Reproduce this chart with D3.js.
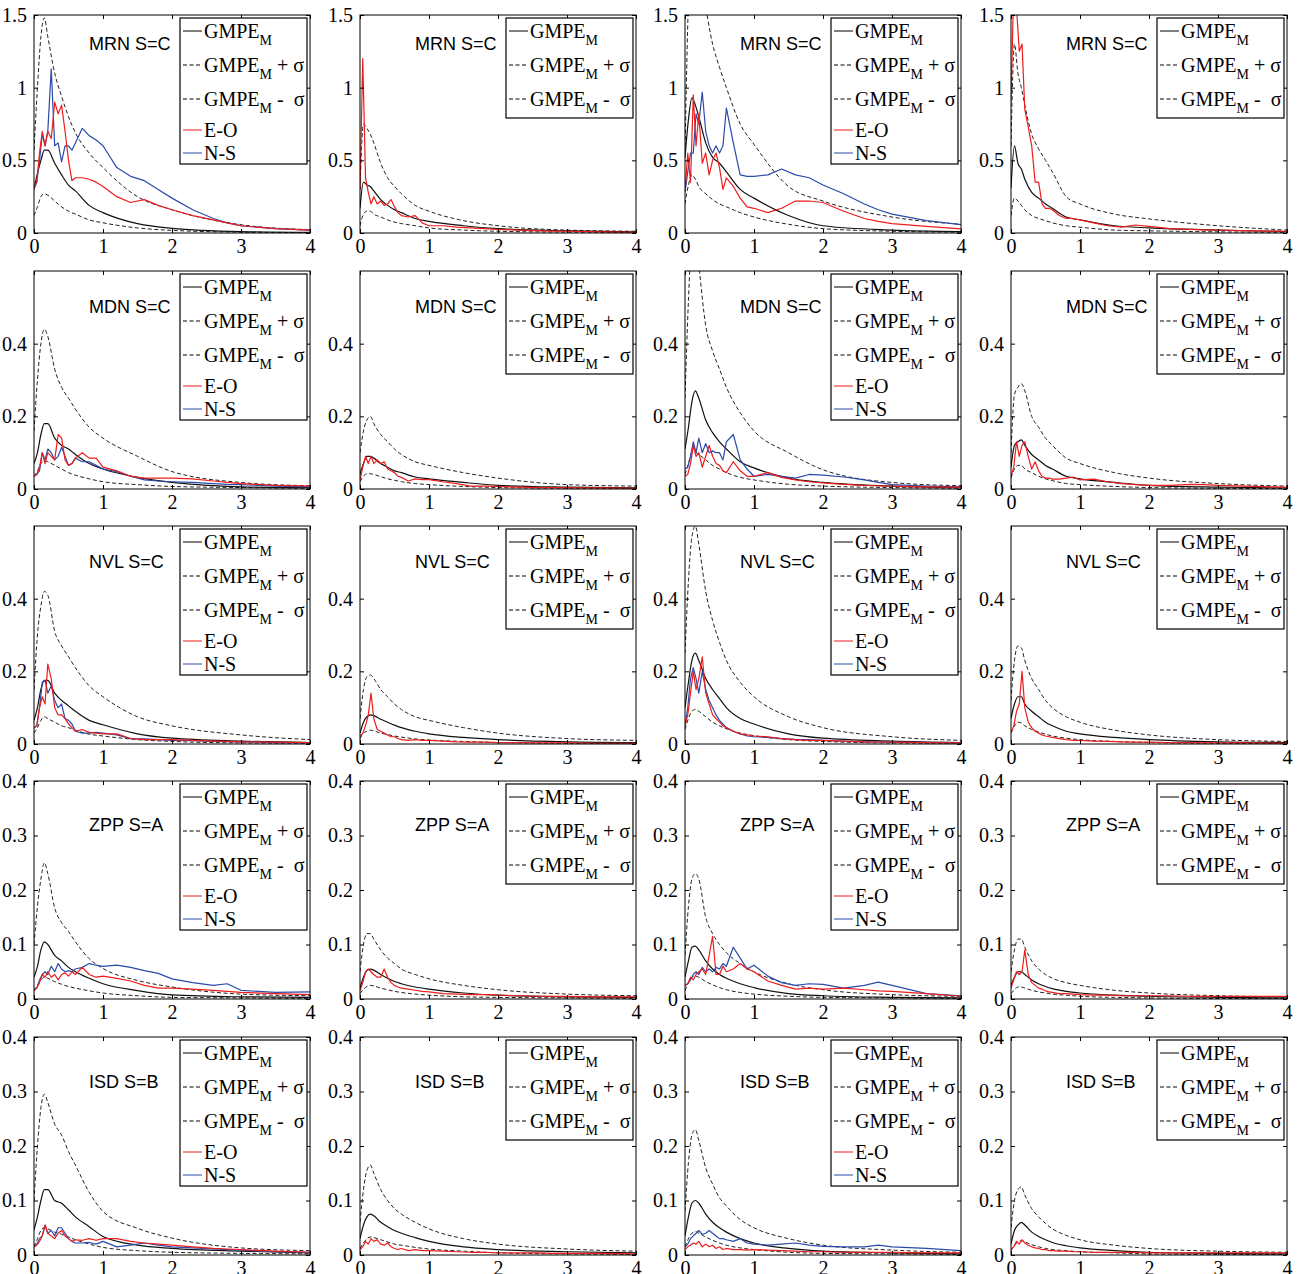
<!DOCTYPE html>
<html>
<head>
<meta charset="utf-8">
<script src="https://cdn.jsdelivr.net/npm/d3@7"></script>
<style>
  body { margin: 0; background: #fff; }
  svg text { font-family: "Liberation Serif", "Times New Roman", serif; }
  svg text.stn { font-family: "Liberation Sans", Arial, sans-serif; }
</style>
</head>
<body>
<div id="chart"></div>
<script>
// periods (s) of the GMPE curves and of the recorded spectra
var gmpeT = [0, 0.05, 0.1, 0.15, 0.2, 0.3, 0.4, 0.5, 0.6, 0.8, 1, 1.5, 2, 3, 4];
var obsT = [0, 0.04, 0.08, 0.12, 0.16, 0.2, 0.25, 0.3, 0.35, 0.4, 0.45, 0.5, 0.55, 0.6, 0.7, 0.8, 0.9, 1,
  1.2, 1.4, 1.6, 1.8, 2, 2.3, 2.6, 2.8, 3, 3.5, 4];

var stations = ['MRN S=C', 'MDN S=C', 'NVL S=C', 'ZPP S=A', 'ISD S=B'];
var yMax = [1.5, 0.6, 0.6, 0.4, 0.4];
var yTicks = [[0, 0.5, 1, 1.5], [0, 0.2, 0.4], [0, 0.2, 0.4], [0, 0.1, 0.2, 0.3, 0.4], [0, 0.1, 0.2, 0.3, 0.4]];
var xTicks = [0, 1, 2, 3, 4];

// MRN
var mrn1Med = [0.30, 0.41, 0.50, 0.57, 0.57, 0.48, 0.40, 0.33, 0.29, 0.19, 0.14, 0.064, 0.032, 0.01, 0.005];
var mrn1Up = [0.57, 1.00, 1.35, 1.48, 1.35, 1.10, 0.94, 0.80, 0.69, 0.55, 0.45, 0.25, 0.16, 0.057, 0.023];
var mrn1Lo = [0.12, 0.18, 0.25, 0.27, 0.26, 0.22, 0.18, 0.15, 0.13, 0.09, 0.07, 0.035, 0.018, 0.006, 0.003];
var mrn1EO = [0.30, 0.35, 0.55, 0.70, 0.60, 0.70, 0.65, 0.90, 0.82, 0.88, 0.70, 0.50, 0.36, 0.38, 0.38, 0.37, 0.35, 0.32,
  0.25, 0.21, 0.23, 0.19, 0.16, 0.12, 0.09, 0.07, 0.05, 0.03, 0.02];
var mrn1NS = [0.31, 0.35, 0.50, 0.68, 0.60, 0.70, 1.13, 0.60, 0.62, 0.49, 0.60, 0.60, 0.57, 0.62, 0.72, 0.67, 0.64, 0.60,
  0.45, 0.39, 0.36, 0.30, 0.24, 0.16, 0.10, 0.07, 0.05, 0.03, 0.02];

var mrn2Med = [0.17, 0.35, 0.33, 0.32, 0.29, 0.23, 0.19, 0.16, 0.14, 0.10, 0.08, 0.05, 0.03, 0.015, 0.008];
var mrn2Up = [0.30, 0.75, 0.72, 0.68, 0.62, 0.48, 0.38, 0.32, 0.27, 0.19, 0.15, 0.085, 0.05, 0.02, 0.012];
var mrn2Lo = [0.05, 0.13, 0.15, 0.15, 0.13, 0.11, 0.09, 0.075, 0.065, 0.05, 0.035, 0.02, 0.012, 0.006, 0.003];
var mrn2EO = [0.30, 1.20, 0.38, 0.28, 0.20, 0.25, 0.20, 0.22, 0.19, 0.20, 0.23, 0.18, 0.14, 0.12, 0.11, 0.12, 0.07, 0.05,
  0.05, 0.04, 0.035, 0.03, 0.025, 0.02, 0.015, 0.013, 0.012, 0.008, 0.005];

var mrn3Med = [0.52, 0.78, 0.93, 0.88, 0.80, 0.62, 0.52, 0.48, 0.42, 0.30, 0.24, 0.12, 0.05, 0.02, 0.01];
var mrn3Up = [0.55, 1.60, 2.00, 1.95, 1.80, 1.55, 1.30, 1.14, 1.00, 0.75, 0.61, 0.32, 0.22, 0.11, 0.06];
var mrn3Lo = [0.20, 0.33, 0.40, 0.37, 0.32, 0.27, 0.23, 0.20, 0.18, 0.14, 0.11, 0.06, 0.03, 0.012, 0.006];
var mrn3EO = [0.28, 0.55, 0.35, 0.95, 0.60, 0.82, 0.48, 0.55, 0.40, 0.50, 0.55, 0.45, 0.30, 0.38, 0.32, 0.24, 0.18, 0.17,
  0.14, 0.17, 0.22, 0.22, 0.21, 0.15, 0.10, 0.08, 0.065, 0.045, 0.028];
var mrn3NS = [0.28, 0.42, 0.55, 0.55, 0.82, 0.75, 0.97, 0.70, 0.60, 0.55, 0.60, 0.55, 0.60, 0.86, 0.62, 0.40, 0.39, 0.39,
  0.40, 0.44, 0.40, 0.38, 0.33, 0.27, 0.20, 0.16, 0.13, 0.085, 0.058];

var mrn4Med = [0.31, 0.60, 0.48, 0.44, 0.37, 0.28, 0.24, 0.20, 0.17, 0.11, 0.09, 0.05, 0.035, 0.02, 0.01];
var mrn4Up = [0.60, 1.30, 1.10, 1.00, 0.88, 0.68, 0.58, 0.50, 0.42, 0.25, 0.20, 0.13, 0.097, 0.05, 0.02];
var mrn4Lo = [0.12, 0.24, 0.22, 0.19, 0.16, 0.12, 0.10, 0.085, 0.07, 0.05, 0.04, 0.02, 0.015, 0.008, 0.004];
var mrn4EO = [0.90, 1.70, 1.55, 1.25, 1.30, 0.85, 0.73, 0.60, 0.35, 0.35, 0.20, 0.17, 0.17, 0.16, 0.12, 0.10, 0.10, 0.09,
  0.07, 0.05, 0.04, 0.055, 0.045, 0.03, 0.025, 0.022, 0.02, 0.015, 0.012];

// MDN
var mdn1Med = [0.07, 0.10, 0.15, 0.18, 0.18, 0.14, 0.12, 0.11, 0.095, 0.07, 0.055, 0.032, 0.018, 0.006, 0.004];
var mdn1Up = [0.16, 0.30, 0.40, 0.44, 0.42, 0.33, 0.28, 0.25, 0.22, 0.17, 0.14, 0.09, 0.048, 0.018, 0.009];
var mdn1Lo = [0.035, 0.05, 0.07, 0.078, 0.075, 0.065, 0.055, 0.045, 0.038, 0.028, 0.02, 0.012, 0.007, 0.004, 0.002];
var mdn1EO = [0.035, 0.04, 0.06, 0.10, 0.07, 0.10, 0.09, 0.08, 0.15, 0.14, 0.08, 0.065, 0.07, 0.085, 0.10, 0.085, 0.085, 0.06,
  0.05, 0.035, 0.03, 0.03, 0.03, 0.028, 0.022, 0.018, 0.015, 0.01, 0.008];
var mdn1NS = [0.035, 0.04, 0.05, 0.10, 0.08, 0.11, 0.10, 0.08, 0.09, 0.115, 0.09, 0.065, 0.07, 0.085, 0.075, 0.075, 0.065, 0.055,
  0.048, 0.035, 0.025, 0.022, 0.02, 0.018, 0.015, 0.013, 0.012, 0.008, 0.006];

var mdn2Med = [0.04, 0.07, 0.09, 0.09, 0.085, 0.07, 0.06, 0.05, 0.045, 0.033, 0.028, 0.018, 0.01, 0.005, 0.003];
var mdn2Up = [0.10, 0.16, 0.19, 0.20, 0.18, 0.15, 0.13, 0.11, 0.095, 0.075, 0.065, 0.045, 0.03, 0.012, 0.008];
var mdn2Lo = [0.02, 0.035, 0.042, 0.042, 0.04, 0.034, 0.028, 0.024, 0.02, 0.015, 0.012, 0.007, 0.004, 0.002, 0.001];
var mdn2EO = [0.025, 0.06, 0.09, 0.07, 0.09, 0.07, 0.08, 0.07, 0.075, 0.055, 0.05, 0.045, 0.035, 0.032, 0.022, 0.028, 0.026, 0.026,
  0.02, 0.015, 0.008, 0.008, 0.007, 0.005, 0.004, 0.004, 0.003, 0.003, 0.002];

var mdn3Med = [0.11, 0.17, 0.24, 0.27, 0.25, 0.19, 0.155, 0.13, 0.11, 0.075, 0.058, 0.03, 0.018, 0.008, 0.004];
var mdn3Up = [0.25, 0.52, 0.70, 0.72, 0.62, 0.45, 0.38, 0.33, 0.28, 0.21, 0.16, 0.10, 0.053, 0.018, 0.009];
var mdn3Lo = [0.04, 0.07, 0.10, 0.10, 0.095, 0.08, 0.065, 0.055, 0.045, 0.032, 0.025, 0.013, 0.008, 0.004, 0.002];
var mdn3EO = [0.035, 0.04, 0.07, 0.12, 0.09, 0.10, 0.06, 0.09, 0.12, 0.09, 0.07, 0.065, 0.05, 0.045, 0.075, 0.05, 0.035, 0.035,
  0.045, 0.032, 0.025, 0.02, 0.017, 0.013, 0.01, 0.009, 0.008, 0.006, 0.005];
var mdn3NS = [0.055, 0.06, 0.09, 0.13, 0.10, 0.14, 0.10, 0.125, 0.10, 0.105, 0.10, 0.10, 0.08, 0.13, 0.15, 0.08, 0.055, 0.035,
  0.04, 0.035, 0.03, 0.04, 0.038, 0.033, 0.025, 0.018, 0.012, 0.008, 0.006];

var mdn4Med = [0.06, 0.12, 0.13, 0.135, 0.12, 0.095, 0.08, 0.065, 0.055, 0.035, 0.028, 0.018, 0.01, 0.005, 0.003];
var mdn4Up = [0.10, 0.26, 0.28, 0.29, 0.27, 0.20, 0.17, 0.14, 0.12, 0.085, 0.07, 0.045, 0.03, 0.015, 0.008];
var mdn4Lo = [0.03, 0.055, 0.065, 0.065, 0.055, 0.045, 0.035, 0.028, 0.023, 0.015, 0.012, 0.007, 0.004, 0.002, 0.001];
var mdn4EO = [0.035, 0.06, 0.13, 0.09, 0.12, 0.13, 0.09, 0.055, 0.075, 0.05, 0.035, 0.03, 0.03, 0.027, 0.027, 0.03, 0.033, 0.025,
  0.027, 0.02, 0.015, 0.012, 0.01, 0.01, 0.013, 0.012, 0.01, 0.007, 0.005];

// NVL
var nvl1Med = [0.065, 0.10, 0.15, 0.175, 0.175, 0.14, 0.12, 0.105, 0.09, 0.065, 0.053, 0.028, 0.016, 0.008, 0.004];
var nvl1Up = [0.15, 0.30, 0.38, 0.42, 0.41, 0.31, 0.27, 0.24, 0.21, 0.16, 0.13, 0.075, 0.05, 0.025, 0.012];
var nvl1Lo = [0.03, 0.045, 0.065, 0.075, 0.07, 0.06, 0.05, 0.045, 0.038, 0.027, 0.022, 0.012, 0.007, 0.003, 0.002];
var nvl1EO = [0.045, 0.05, 0.10, 0.13, 0.11, 0.22, 0.18, 0.10, 0.08, 0.08, 0.07, 0.055, 0.045, 0.035, 0.04, 0.032, 0.03, 0.028,
  0.028, 0.015, 0.012, 0.012, 0.012, 0.01, 0.008, 0.007, 0.006, 0.005, 0.004];
var nvl1NS = [0.045, 0.05, 0.10, 0.17, 0.175, 0.14, 0.16, 0.12, 0.10, 0.11, 0.07, 0.065, 0.055, 0.035, 0.03, 0.03, 0.032, 0.03,
  0.025, 0.015, 0.014, 0.012, 0.01, 0.009, 0.007, 0.0065, 0.006, 0.004, 0.003];

var nvl2Med = [0.03, 0.06, 0.075, 0.08, 0.078, 0.068, 0.06, 0.052, 0.045, 0.035, 0.028, 0.018, 0.012, 0.006, 0.004];
var nvl2Up = [0.07, 0.15, 0.185, 0.19, 0.18, 0.15, 0.13, 0.11, 0.095, 0.075, 0.065, 0.045, 0.03, 0.015, 0.01];
var nvl2Lo = [0.015, 0.03, 0.035, 0.038, 0.036, 0.03, 0.026, 0.022, 0.019, 0.014, 0.011, 0.007, 0.004, 0.002, 0.001];
var nvl2EO = [0.02, 0.03, 0.05, 0.08, 0.14, 0.07, 0.04, 0.035, 0.03, 0.025, 0.02, 0.02, 0.015, 0.012, 0.01, 0.012, 0.01, 0.01,
  0.008, 0.006, 0.005, 0.005, 0.004, 0.004, 0.003, 0.003, 0.003, 0.002, 0.002];

var nvl3Med = [0.10, 0.17, 0.23, 0.25, 0.23, 0.18, 0.15, 0.125, 0.10, 0.07, 0.055, 0.028, 0.016, 0.008, 0.004];
var nvl3Up = [0.25, 0.45, 0.57, 0.60, 0.55, 0.42, 0.34, 0.28, 0.23, 0.17, 0.13, 0.075, 0.045, 0.02, 0.01];
var nvl3Lo = [0.04, 0.07, 0.09, 0.095, 0.09, 0.075, 0.06, 0.05, 0.042, 0.03, 0.023, 0.012, 0.007, 0.003, 0.002];
var nvl3EO = [0.05, 0.08, 0.14, 0.20, 0.15, 0.18, 0.24, 0.14, 0.11, 0.08, 0.07, 0.06, 0.05, 0.045, 0.035, 0.028, 0.025, 0.022,
  0.02, 0.015, 0.012, 0.01, 0.01, 0.008, 0.006, 0.0055, 0.005, 0.004, 0.003];
var nvl3NS = [0.05, 0.10, 0.18, 0.21, 0.18, 0.14, 0.20, 0.15, 0.12, 0.10, 0.08, 0.065, 0.055, 0.045, 0.035, 0.028, 0.022, 0.02,
  0.018, 0.015, 0.013, 0.012, 0.01, 0.008, 0.006, 0.0055, 0.005, 0.004, 0.003];

var nvl4Med = [0.07, 0.11, 0.13, 0.13, 0.11, 0.09, 0.075, 0.06, 0.05, 0.035, 0.028, 0.018, 0.012, 0.006, 0.004];
var nvl4Up = [0.12, 0.23, 0.27, 0.265, 0.23, 0.18, 0.15, 0.12, 0.10, 0.075, 0.06, 0.038, 0.025, 0.012, 0.007];
var nvl4Lo = [0.03, 0.05, 0.06, 0.058, 0.05, 0.04, 0.033, 0.027, 0.022, 0.016, 0.012, 0.007, 0.004, 0.002, 0.001];
var nvl4EO = [0.03, 0.05, 0.09, 0.11, 0.20, 0.10, 0.06, 0.045, 0.035, 0.03, 0.025, 0.022, 0.02, 0.018, 0.015, 0.012, 0.01, 0.01,
  0.008, 0.007, 0.006, 0.005, 0.005, 0.004, 0.004, 0.003, 0.003, 0.003, 0.002];

// ZPP
var zpp1Med = [0.04, 0.06, 0.09, 0.105, 0.10, 0.08, 0.07, 0.058, 0.05, 0.038, 0.028, 0.0155, 0.0075, 0.004, 0.003];
var zpp1Up = [0.10, 0.17, 0.22, 0.25, 0.23, 0.167, 0.14, 0.124, 0.105, 0.074, 0.056, 0.034, 0.022, 0.009, 0.006];
var zpp1Lo = [0.015, 0.025, 0.035, 0.04, 0.038, 0.032, 0.027, 0.023, 0.02, 0.015, 0.011, 0.006, 0.003, 0.002, 0.001];
var zpp1EO = [0.015, 0.02, 0.03, 0.045, 0.04, 0.05, 0.04, 0.045, 0.035, 0.045, 0.048, 0.042, 0.05, 0.045, 0.058, 0.045, 0.04, 0.042,
  0.038, 0.033, 0.025, 0.02, 0.02, 0.018, 0.016, 0.014, 0.012, 0.01, 0.008];
var zpp1NS = [0.018, 0.02, 0.035, 0.045, 0.05, 0.045, 0.06, 0.05, 0.065, 0.055, 0.05, 0.052, 0.05, 0.055, 0.058, 0.065, 0.062, 0.06,
  0.062, 0.058, 0.052, 0.047, 0.037, 0.03, 0.025, 0.028, 0.016, 0.012, 0.013];

var zpp2Med = [0.02, 0.04, 0.052, 0.055, 0.053, 0.045, 0.038, 0.032, 0.028, 0.022, 0.018, 0.011, 0.007, 0.004, 0.003];
var zpp2Up = [0.05, 0.10, 0.12, 0.12, 0.11, 0.09, 0.075, 0.065, 0.055, 0.045, 0.037, 0.025, 0.017, 0.009, 0.006];
var zpp2Lo = [0.01, 0.018, 0.023, 0.025, 0.024, 0.02, 0.017, 0.014, 0.012, 0.009, 0.007, 0.004, 0.003, 0.002, 0.001];
var zpp2EO = [0.015, 0.03, 0.05, 0.055, 0.05, 0.045, 0.04, 0.04, 0.055, 0.04, 0.03, 0.025, 0.022, 0.02, 0.018, 0.016, 0.014, 0.013,
  0.01, 0.009, 0.008, 0.008, 0.007, 0.006, 0.005, 0.005, 0.005, 0.004, 0.004];

var zpp3Med = [0.04, 0.07, 0.095, 0.097, 0.09, 0.07, 0.055, 0.045, 0.038, 0.028, 0.021, 0.01, 0.006, 0.003, 0.002];
var zpp3Up = [0.08, 0.17, 0.22, 0.23, 0.22, 0.15, 0.12, 0.10, 0.085, 0.065, 0.05, 0.028, 0.017, 0.008, 0.005];
var zpp3Lo = [0.015, 0.03, 0.04, 0.042, 0.04, 0.032, 0.026, 0.021, 0.017, 0.012, 0.009, 0.005, 0.003, 0.002, 0.001];
var zpp3EO = [0.025, 0.028, 0.04, 0.035, 0.045, 0.05, 0.055, 0.045, 0.08, 0.115, 0.045, 0.045, 0.06, 0.05, 0.055, 0.065, 0.055, 0.05,
  0.033, 0.025, 0.018, 0.02, 0.018, 0.02, 0.017, 0.015, 0.014, 0.01, 0.005];
var zpp3NS = [0.025, 0.028, 0.035, 0.045, 0.05, 0.045, 0.058, 0.05, 0.055, 0.05, 0.058, 0.055, 0.065, 0.06, 0.095, 0.075, 0.055, 0.062,
  0.042, 0.03, 0.025, 0.028, 0.027, 0.02, 0.025, 0.031, 0.025, 0.01, 0.006];

var zpp4Med = [0.025, 0.04, 0.05, 0.05, 0.045, 0.035, 0.028, 0.023, 0.019, 0.014, 0.011, 0.007, 0.005, 0.003, 0.002];
var zpp4Up = [0.05, 0.09, 0.11, 0.11, 0.095, 0.07, 0.055, 0.045, 0.038, 0.03, 0.025, 0.016, 0.011, 0.006, 0.004];
var zpp4Lo = [0.01, 0.017, 0.022, 0.022, 0.02, 0.016, 0.013, 0.011, 0.009, 0.007, 0.005, 0.003, 0.002, 0.001, 0.001];
var zpp4EO = [0.02, 0.035, 0.05, 0.045, 0.05, 0.09, 0.045, 0.03, 0.025, 0.02, 0.018, 0.015, 0.013, 0.012, 0.01, 0.01, 0.009, 0.008,
  0.007, 0.007, 0.006, 0.006, 0.006, 0.006, 0.005, 0.005, 0.005, 0.005, 0.005];

// ISD
var isd1Med = [0.046, 0.07, 0.10, 0.12, 0.12, 0.10, 0.095, 0.083, 0.07, 0.052, 0.034, 0.018, 0.012, 0.007, 0.004];
var isd1Up = [0.10, 0.20, 0.27, 0.295, 0.28, 0.24, 0.22, 0.19, 0.165, 0.115, 0.08, 0.049, 0.031, 0.013, 0.008];
var isd1Lo = [0.015, 0.03, 0.045, 0.05, 0.048, 0.042, 0.038, 0.033, 0.028, 0.02, 0.014, 0.008, 0.005, 0.003, 0.002];
var isd1EO = [0.015, 0.018, 0.025, 0.035, 0.055, 0.04, 0.035, 0.03, 0.04, 0.045, 0.035, 0.03, 0.025, 0.028, 0.027, 0.03, 0.027, 0.03,
  0.03, 0.025, 0.022, 0.02, 0.018, 0.015, 0.012, 0.011, 0.01, 0.007, 0.005];
var isd1NS = [0.015, 0.02, 0.03, 0.035, 0.055, 0.04, 0.045, 0.035, 0.05, 0.05, 0.04, 0.03, 0.025, 0.022, 0.022, 0.023, 0.02, 0.025,
  0.015, 0.018, 0.022, 0.018, 0.015, 0.013, 0.011, 0.01, 0.009, 0.006, 0.005];

var isd2Med = [0.03, 0.055, 0.07, 0.075, 0.072, 0.06, 0.052, 0.045, 0.04, 0.032, 0.025, 0.015, 0.01, 0.006, 0.004];
var isd2Up = [0.06, 0.12, 0.155, 0.165, 0.15, 0.12, 0.10, 0.085, 0.075, 0.06, 0.048, 0.03, 0.02, 0.011, 0.007];
var isd2Lo = [0.012, 0.022, 0.03, 0.033, 0.032, 0.028, 0.024, 0.02, 0.018, 0.014, 0.011, 0.007, 0.004, 0.002, 0.001];
var isd2EO = [0.01, 0.015, 0.025, 0.02, 0.03, 0.025, 0.028, 0.02, 0.018, 0.022, 0.015, 0.012, 0.01, 0.012, 0.008, 0.01, 0.008, 0.008,
  0.007, 0.006, 0.005, 0.005, 0.004, 0.004, 0.004, 0.003, 0.003, 0.003, 0.002];

var isd3Med = [0.035, 0.07, 0.095, 0.10, 0.095, 0.075, 0.06, 0.05, 0.042, 0.03, 0.022, 0.012, 0.007, 0.004, 0.002];
var isd3Up = [0.08, 0.17, 0.22, 0.23, 0.21, 0.16, 0.13, 0.105, 0.09, 0.065, 0.05, 0.03, 0.018, 0.009, 0.005];
var isd3Lo = [0.015, 0.03, 0.04, 0.043, 0.04, 0.033, 0.027, 0.022, 0.018, 0.013, 0.01, 0.005, 0.003, 0.002, 0.001];
var isd3EO = [0.01, 0.015, 0.018, 0.022, 0.02, 0.025, 0.015, 0.02, 0.015, 0.018, 0.012, 0.015, 0.01, 0.012, 0.01, 0.01, 0.009, 0.01,
  0.009, 0.008, 0.007, 0.006, 0.006, 0.005, 0.005, 0.005, 0.005, 0.004, 0.004];
var isd3NS = [0.015, 0.02, 0.03, 0.035, 0.04, 0.045, 0.038, 0.04, 0.045, 0.04, 0.035, 0.03, 0.03, 0.028, 0.025, 0.03, 0.022, 0.02,
  0.018, 0.02, 0.022, 0.018, 0.016, 0.015, 0.015, 0.018, 0.015, 0.012, 0.008];

var isd4Med = [0.02, 0.045, 0.055, 0.06, 0.055, 0.042, 0.034, 0.028, 0.023, 0.017, 0.013, 0.008, 0.005, 0.003, 0.002];
var isd4Up = [0.05, 0.10, 0.12, 0.125, 0.11, 0.085, 0.07, 0.058, 0.048, 0.036, 0.028, 0.018, 0.012, 0.007, 0.005];
var isd4Lo = [0.008, 0.018, 0.024, 0.026, 0.024, 0.019, 0.015, 0.012, 0.01, 0.008, 0.006, 0.004, 0.002, 0.001, 0.001];
var isd4EO = [0.01, 0.015, 0.025, 0.02, 0.028, 0.022, 0.018, 0.015, 0.013, 0.012, 0.01, 0.01, 0.008, 0.008, 0.007, 0.007, 0.006, 0.006,
  0.005, 0.005, 0.005, 0.005, 0.004, 0.004, 0.004, 0.004, 0.004, 0.004, 0.004];

var panels = [
  [{ med: mrn1Med, up: mrn1Up, lo: mrn1Lo, eo: mrn1EO, ns: mrn1NS },
   { med: mrn2Med, up: mrn2Up, lo: mrn2Lo, eo: mrn2EO },
   { med: mrn3Med, up: mrn3Up, lo: mrn3Lo, eo: mrn3EO, ns: mrn3NS },
   { med: mrn4Med, up: mrn4Up, lo: mrn4Lo, eo: mrn4EO }],
  [{ med: mdn1Med, up: mdn1Up, lo: mdn1Lo, eo: mdn1EO, ns: mdn1NS },
   { med: mdn2Med, up: mdn2Up, lo: mdn2Lo, eo: mdn2EO },
   { med: mdn3Med, up: mdn3Up, lo: mdn3Lo, eo: mdn3EO, ns: mdn3NS },
   { med: mdn4Med, up: mdn4Up, lo: mdn4Lo, eo: mdn4EO }],
  [{ med: nvl1Med, up: nvl1Up, lo: nvl1Lo, eo: nvl1EO, ns: nvl1NS },
   { med: nvl2Med, up: nvl2Up, lo: nvl2Lo, eo: nvl2EO },
   { med: nvl3Med, up: nvl3Up, lo: nvl3Lo, eo: nvl3EO, ns: nvl3NS },
   { med: nvl4Med, up: nvl4Up, lo: nvl4Lo, eo: nvl4EO }],
  [{ med: zpp1Med, up: zpp1Up, lo: zpp1Lo, eo: zpp1EO, ns: zpp1NS },
   { med: zpp2Med, up: zpp2Up, lo: zpp2Lo, eo: zpp2EO },
   { med: zpp3Med, up: zpp3Up, lo: zpp3Lo, eo: zpp3EO, ns: zpp3NS },
   { med: zpp4Med, up: zpp4Up, lo: zpp4Lo, eo: zpp4EO }],
  [{ med: isd1Med, up: isd1Up, lo: isd1Lo, eo: isd1EO, ns: isd1NS },
   { med: isd2Med, up: isd2Up, lo: isd2Lo, eo: isd2EO },
   { med: isd3Med, up: isd3Up, lo: isd3Lo, eo: isd3EO, ns: isd3NS },
   { med: isd4Med, up: isd4Up, lo: isd4Lo, eo: isd4EO }]
];

var red = '#ee1c1c',
  blue = '#2b4aa9';

var width = 1301,
  height = 1274,
  pw = 276,
  ph = 218;
var colX = [34, 360, 685, 1011],
  rowY = [15, 271, 526, 781, 1037],
  labelDy = [35, 42, 42, 50, 51];

var svg = d3.select('#chart')
  .append('svg')
  .attr('width', width)
  .attr('height', height);

var drawLegend = function(g, full) {
  var bx = 146,
    by = 3,
    bw = 127,
    bh = full ? 146 : 100;
  var lg = g.append('g').attr('transform', 'translate(' + bx + ',' + by + ')');
  lg.append('rect')
    .attr('width', bw)
    .attr('height', bh)
    .attr('fill', '#fff')
    .attr('stroke', '#000')
    .attr('stroke-width', 1.2);

  var entries = [
    { gmpe: true, tail: '', color: '#000', dash: null, base: 20 },
    { gmpe: true, tail: ' + σ', color: '#000', dash: '4,2.5', base: 54 },
    { gmpe: true, tail: ' -  σ', color: '#000', dash: '4,2.5', base: 88 }
  ];
  if (full) {
    entries.push({ label: 'E-O', color: red, dash: null, base: 119 });
    entries.push({ label: 'N-S', color: blue, dash: null, base: 142 });
  }

  entries.forEach(function(e) {
    lg.append('line')
      .attr('x1', 3)
      .attr('x2', 22)
      .attr('y1', e.base - 7)
      .attr('y2', e.base - 7)
      .attr('stroke', e.color)
      .attr('stroke-width', 1)
      .attr('stroke-dasharray', e.dash);
    var t = lg.append('text')
      .attr('x', 24)
      .attr('y', e.base)
      .style('font-size', '20px')
      .style('white-space', 'pre');
    if (e.gmpe) {
      t.append('tspan').text('GMPE');
      t.append('tspan').attr('dy', 7).style('font-size', '14px').text('M');
      if (e.tail) {
        t.append('tspan').attr('dy', -7).text(e.tail);
      }
    } else {
      t.text(e.label);
    }
  });
};

panels.forEach(function(row, r) {
  row.forEach(function(p, c) {
    var g = svg.append('g')
      .attr('transform', 'translate(' + colX[c] + ',' + rowY[r] + ')');

    var x = d3.scaleLinear().domain([0, 4]).range([0, pw]);
    var y = d3.scaleLinear().domain([0, yMax[r]]).range([ph, 0]);

    var clipId = 'clip-' + r + '-' + c;
    g.append('clipPath')
      .attr('id', clipId)
      .append('rect')
      .attr('width', pw)
      .attr('height', ph);

    var plot = g.append('g').attr('clip-path', 'url(#' + clipId + ')');

    var gmpeLine = d3.line()
      .x(function(d, i) { return x(gmpeT[i]); })
      .y(function(d) { return y(d); })
      .curve(d3.curveMonotoneX);
    var obsLine = d3.line()
      .x(function(d, i) { return x(obsT[i]); })
      .y(function(d) { return y(d); });

    [p.up, p.lo].forEach(function(s) {
      plot.append('path')
        .attr('d', gmpeLine(s))
        .attr('fill', 'none')
        .attr('stroke', '#222')
        .attr('stroke-width', 1)
        .attr('stroke-dasharray', '4,2.5');
    });
    plot.append('path')
      .attr('d', gmpeLine(p.med))
      .attr('fill', 'none')
      .attr('stroke', '#111')
      .attr('stroke-width', 1.2);

    if (p.ns) {
      plot.append('path')
        .attr('d', obsLine(p.ns))
        .attr('fill', 'none')
        .attr('stroke', blue)
        .attr('stroke-width', 1.2)
        .attr('stroke-linejoin', 'round');
    }
    plot.append('path')
      .attr('d', obsLine(p.eo))
      .attr('fill', 'none')
      .attr('stroke', red)
      .attr('stroke-width', 1.2)
      .attr('stroke-linejoin', 'round');

    // axes, ticks pointing inward on all four sides
    var fmt = function(d) { return String(d); };
    var axB = g.append('g')
      .attr('transform', 'translate(0,' + ph + ')')
      .call(d3.axisBottom(x).tickValues(xTicks).tickSize(-4).tickPadding(6).tickFormat(fmt));
    var axL = g.append('g')
      .call(d3.axisLeft(y).tickValues(yTicks[r]).tickSize(-4).tickPadding(7).tickFormat(fmt));
    var axT = g.append('g')
      .call(d3.axisTop(x).tickValues(xTicks).tickSize(-4).tickFormat(''));
    var axR = g.append('g')
      .attr('transform', 'translate(' + pw + ',0)')
      .call(d3.axisRight(y).tickValues(yTicks[r]).tickSize(-4).tickFormat(''));

    [axB, axL, axT, axR].forEach(function(a) {
      a.select('.domain').remove();
      a.selectAll('line').attr('stroke', '#000');
      a.selectAll('text')
        .attr('fill', '#000')
        .style('font-size', '20px')
        .style('font-family', '"Liberation Serif", "Times New Roman", serif');
    });

    g.append('rect')
      .attr('width', pw)
      .attr('height', ph)
      .attr('fill', 'none')
      .attr('stroke', '#000')
      .attr('stroke-width', 1);

    g.append('text')
      .attr('class', 'stn')
      .attr('x', 55)
      .attr('y', labelDy[r])
      .style('font-size', '18px')
      .attr('fill', '#000')
      .text(stations[r]);

    drawLegend(g, !!p.ns);
  });
});
</script>
</body>
</html>
